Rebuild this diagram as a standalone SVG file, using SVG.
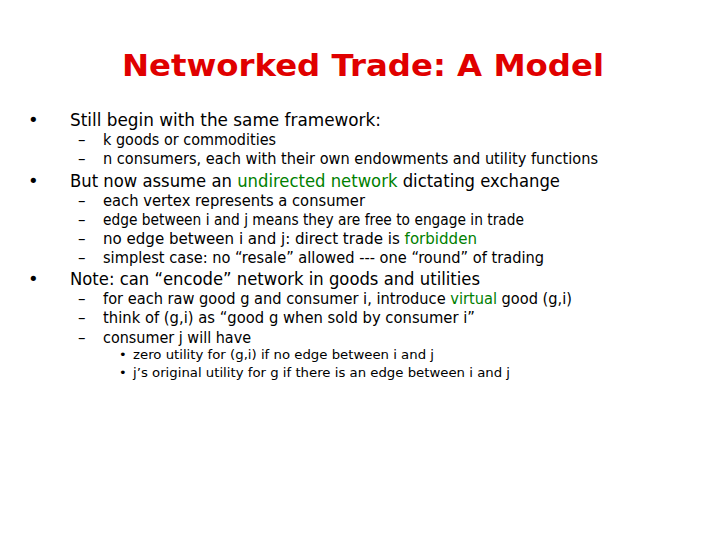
<svg xmlns="http://www.w3.org/2000/svg" width="720" height="540" viewBox="0 0 720 540">
<style>
text{font-family:"DejaVu Sans","Liberation Sans",sans-serif;fill:#000}
.t{font-size:30px;font-weight:bold;fill:#e00000}
.l1{font-size:18px}
.l2{font-size:15px}
.l3{font-size:13px}
.g{fill:#008000}
</style>
<rect width="720" height="540" fill="#fff"/>
<text class="t" x="122" y="76" textLength="482" lengthAdjust="spacingAndGlyphs">Networked Trade: A Model</text>
<g class="l1">
<text x="28" y="126">•</text>
<text x="70" y="126" textLength="311" lengthAdjust="spacingAndGlyphs">Still begin with the same framework:</text>
<text x="28" y="187">•</text>
<text x="70" y="187" textLength="490" lengthAdjust="spacingAndGlyphs">But now assume an <tspan class="g">undirected network</tspan> dictating exchange</text>
<text x="28" y="285">•</text>
<text x="70" y="285" textLength="410" lengthAdjust="spacingAndGlyphs">Note: can “encode” network in goods and utilities</text>
</g>
<g class="l2">
<text x="78" y="145">–</text><text x="103" y="145" textLength="173" lengthAdjust="spacingAndGlyphs">k goods or commodities</text>
<text x="78" y="164">–</text><text x="103" y="164" textLength="495" lengthAdjust="spacingAndGlyphs">n consumers, each with their own endowments and utility functions</text>
<text x="78" y="206">–</text><text x="103" y="206" textLength="262" lengthAdjust="spacingAndGlyphs">each vertex represents a consumer</text>
<text x="78" y="225">–</text><text x="103" y="225" textLength="421" lengthAdjust="spacingAndGlyphs">edge between i and j means they are free to engage in trade</text>
<text x="78" y="244">–</text><text x="103" y="244" textLength="374" lengthAdjust="spacingAndGlyphs">no edge between i and j: direct trade is <tspan class="g">forbidden</tspan></text>
<text x="78" y="263">–</text><text x="103" y="263" textLength="441" lengthAdjust="spacingAndGlyphs">simplest case: no “resale” allowed --- one “round” of trading</text>
<text x="78" y="304">–</text><text x="103" y="304" textLength="469" lengthAdjust="spacingAndGlyphs">for each raw good g and consumer i, introduce <tspan class="g">virtual</tspan> good (g,i)</text>
<text x="78" y="323">–</text><text x="103" y="323" textLength="372" lengthAdjust="spacingAndGlyphs">think of (g,i) as “good g when sold by consumer i”</text>
<text x="78" y="343">–</text><text x="103" y="343" textLength="148" lengthAdjust="spacingAndGlyphs">consumer j will have</text>
</g>
<g class="l3">
<text x="119" y="359">•</text><text x="133" y="359" textLength="301" lengthAdjust="spacingAndGlyphs">zero utility for (g,i) if no edge between i and j</text>
<text x="119" y="377">•</text><text x="133" y="377" textLength="377" lengthAdjust="spacingAndGlyphs">j’s original utility for g if there is an edge between i and j</text>
</g>
</svg>
